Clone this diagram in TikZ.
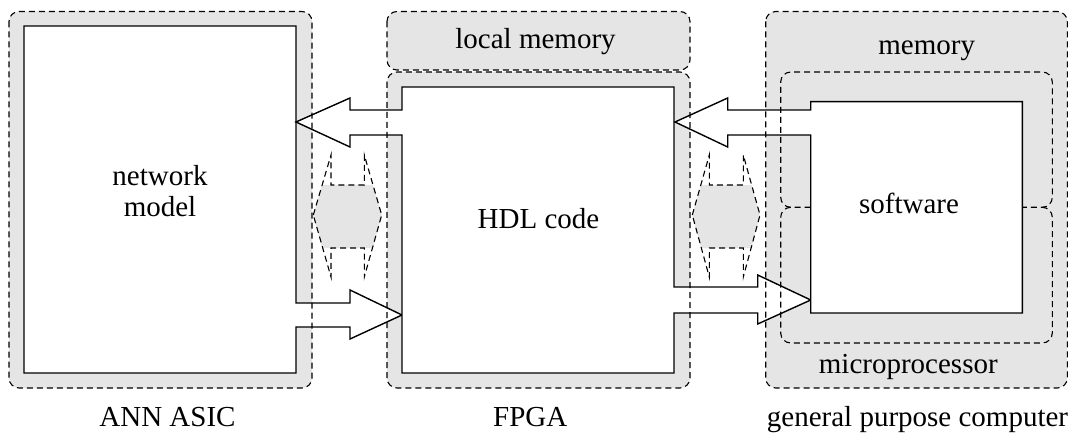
\documentclass[tikz,border=0pt]{standalone}
\usepackage{fontspec}
\setmainfont{Liberation Serif}
\newfontfamily\labelface{Liberation Serif}
\begin{document}
\begin{tikzpicture}[x=1pt,y=-1pt,
  shade/.style={fill=black!10},
  zone/.style={draw=black, line width=1.1pt, dash pattern=on 6pt off 4pt, rounded corners=10pt},
  block/.style={draw=black, fill=white, line width=1.4pt, line join=miter},
  linkfill/.style={fill=black!10},
  linkedge/.style={draw=black, line width=1.1pt, dash pattern=on 6pt off 4pt, line join=miter},
  lbl/.style={font=\labelface\fontsize{29}{31}\selectfont, inner sep=0pt, anchor=base}]
\useasboundingbox (0,0) rectangle (1072,433);

% zone corners
\coordinate (asicNW) at (9,11.5);    \coordinate (asicSE) at (312,388);
\coordinate (lmemNW) at (387,11.5);  \coordinate (lmemSE) at (690,70);
\coordinate (fpgaNW) at (387,72);    \coordinate (fpgaSE) at (690,388);
\coordinate (gpcNW)  at (765.7,11.5);\coordinate (gpcSE)  at (1067.3,388);

% grey backgrounds of the zones
\fill[shade, rounded corners=10pt] (asicNW) rectangle (asicSE);
\fill[shade, rounded corners=10pt] (lmemNW) rectangle (lmemSE);
\fill[shade, rounded corners=10pt] (fpgaNW) rectangle (fpgaSE);
\fill[shade, rounded corners=10pt] (gpcNW) rectangle (gpcSE);

% dashed interface links between the units
\fill[linkfill] (313.3,215) -- (322.2,185) -- (373,185) -- (381.7,215) -- (373,248) -- (322.2,248) -- cycle;
\draw[linkedge] (313.3,215) -- (331,155) -- (331,185) -- (364.3,185) -- (364.3,155)
  -- (381.7,215) -- (364.3,277) -- (364.3,248) -- (331,248) -- (331,277) -- cycle;
\fill[linkfill] (692.3,215) -- (701,185) -- (751.5,185) -- (760,215) -- (751.5,248) -- (701,248) -- cycle;
\draw[linkedge] (692.3,215) -- (709.3,155) -- (709.3,185) -- (743.3,185) -- (743.3,155)
  -- (760,215) -- (743.3,277) -- (743.3,248) -- (709.3,248) -- (709.3,277) -- cycle;

% network model block with its output arrow
\draw[block] (24,26) -- (296,26) -- (296,303) -- (350,303) -- (350,290) -- (402,315)
  -- (350,339) -- (350,327) -- (296,327) -- (296,373) -- (24,373) -- cycle;

% HDL code block with its two arrows
\draw[block] (402,87) -- (674,87) -- (674,287) -- (757.7,287) -- (757.7,275) -- (810.7,300)
  -- (757.7,324) -- (757.7,313) -- (674,313) -- (674,373) -- (402,373) -- (402,135)
  -- (350,135) -- (350,147) -- (296,122) -- (350,98) -- (350,110) -- (402,110) -- cycle;

% software block with its arrow
\draw[block] (810.7,101.7) -- (1022.3,101.7) -- (1022.3,313) -- (810.7,313) -- (810.7,135)
  -- (727.7,135) -- (727.7,147) -- (675,122) -- (727.7,98) -- (727.7,110) -- (810.7,110) -- cycle;

% dashed zone outlines
\draw[zone] (asicNW) rectangle (asicSE);
\draw[zone] (lmemNW) rectangle (lmemSE);
\draw[zone] (fpgaNW) rectangle (fpgaSE);
\draw[zone] (gpcNW) rectangle (gpcSE);
\draw[zone] (810.7,207.3) -- (780.7,207.3) -- (780.7,72) -- (1052.3,72) -- (1052.3,207.3) -- (1022.3,207.3);
\draw[zone] (790.7,207.3) -- (780.7,207.3) -- (780.7,343) -- (1052.3,343) -- (1052.3,207.3) -- (1042.3,207.3);

% labels
\node[lbl] (netA) at (160,185.5) {network};
\node[lbl] (netB) at (160,216.5) {model};
\node[lbl] (hdl)  at (538.5,229) {HDL code};
\node[lbl] (sw)   at (909,213.3) {software};
\node[lbl] (lmem) at (535.5,48.3) {local memory};
\node[lbl] (mem)  at (926.7,55) {memory};
\node[lbl] (mpu)  at (908.3,373.3) {microprocessor};
\node[lbl] (asic) at (167.5,426.5) {ANN ASIC};
\node[lbl] (fpga) at (530.3,426.5) {FPGA};
\node[lbl] (gpc)  at (917.5,426) {general purpose computer};
\end{tikzpicture}
\end{document}
